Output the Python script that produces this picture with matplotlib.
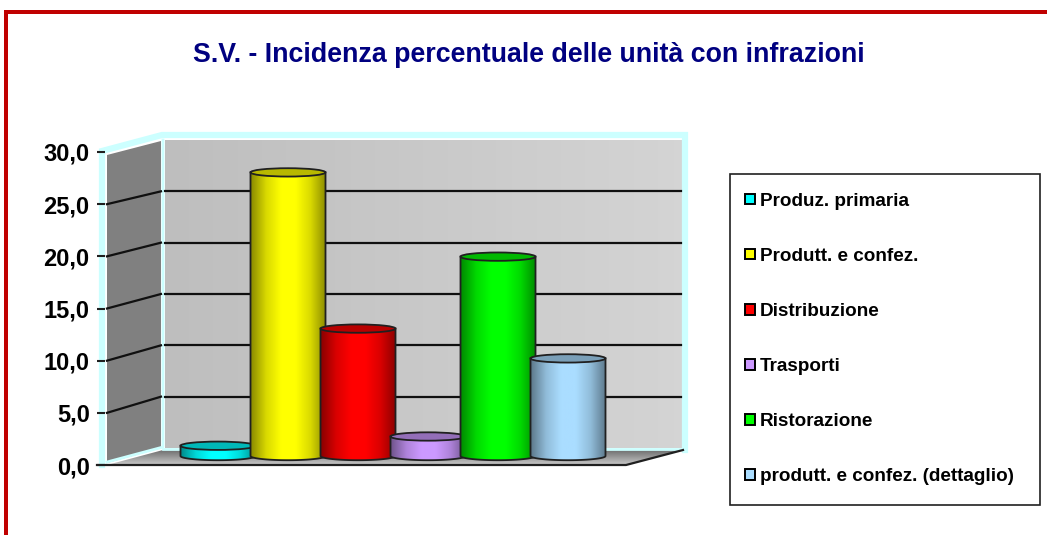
import numpy as np
import matplotlib
matplotlib.use('Agg')
import matplotlib.pyplot as plt
from matplotlib.colors import LinearSegmentedColormap, to_rgb
from matplotlib.patches import Ellipse, Patch, PathPatch, Polygon, Rectangle
from matplotlib.path import Path

plt.rcParams['font.family'] = ['Liberation Sans', 'DejaVu Sans']

title = 'S.V. - Incidenza percentuale delle unità con infrazioni'
categories = ['Produz. primaria', 'Produtt. e confez.', 'Distribuzione', 'Trasporti',
              'Ristorazione', 'produtt. e confez. (dettaglio)']
values = [1.0, 27.6, 12.4, 1.9, 19.4, 9.5]
colors = ['#00FFFF', '#FFFF00', '#FF0000', '#CC99FF', '#00FF00', '#AADDFF']
ticks = [0, 5, 10, 15, 20, 25, 30]

W, H = 1047, 535
fig = plt.figure(figsize=(W / 100, H / 100), dpi=100)

# background layer in pixels, for the frame and the 3d box
bg = fig.add_axes([0, 0, 1, 1])
bg.set_xlim(0, W)
bg.set_ylim(H, 0)
bg.axis('off')

bg.add_patch(Rectangle((4, 10), W, 4, color='#C00000', lw=0))
bg.add_patch(Rectangle((4, 10), 4, H, color='#C00000', lw=0))

# walls
bg.add_patch(Polygon([(107, 155), (161, 141), (161, 448), (107, 463)], color='#808080', lw=0))
wall = bg.imshow(np.linspace(0, 1, 64).reshape(1, -1), extent=(165, 682, 448, 140), aspect='auto',
                 cmap=LinearSegmentedColormap.from_list('w', ['#BEBEBE', '#D4D4D4']), zorder=1)
floor = bg.imshow(np.linspace(0, 1, 32).reshape(-1, 1), extent=(107, 683, 465, 450), aspect='auto',
                  cmap=LinearSegmentedColormap.from_list('f', ['#707070', '#C8C8C8']), zorder=1)
floor.set_clip_path(Polygon([(107, 465), (625, 465), (683, 450), (163, 450)], transform=bg.transData))
bg.set_xlim(0, W)
bg.set_ylim(H, 0)

# light cyan edge of the box
cyan = '#CCFFFF'
bg.plot([102, 102, 162, 685, 685], [465, 151, 135, 135, 450], color=cyan, lw=4.5, zorder=2, solid_joinstyle='miter')
bg.plot([107, 163, 163], [462, 447, 140], color=cyan, lw=2, zorder=2)
bg.plot([163, 682], [449, 449], color=cyan, lw=2, zorder=2)

# floor edge
bg.plot([97, 626, 683], [465, 465, 450], color='#202020', lw=1.6, zorder=3)

ax = fig.add_axes([105 / W, 1 - 465 / H, (625 - 105) / W, (465 - 152) / H])
ax.patch.set_alpha(0)
for s in ax.spines.values():
    s.set_visible(False)

px_x = 70.0
x_left = -(218 - 105) / px_x
ax.set_xticks([])
ax.set_yticks(ticks)
ax.set_yticklabels([('%.1f' % t).replace('.', ',') for t in ticks], fontsize=17, fontweight='bold')
ax.tick_params(axis='y', length=6, width=1.5, color='#202020', pad=5)

# gridlines on the two walls
px_y = (465 - 152) / 30
for t in ticks[1:-1]:
    front = 465 - t * px_y
    back = 448 - t * (448 - 140) / 30
    bg.plot([107, 161], [front, back], color='#101010', lw=1.6, zorder=3)
    bg.plot([165, 681], [back, back], color='#101010', lw=1.6, zorder=3)

# cylinders
base = 0.86
scale = 0.985
width = 75 / px_x
eh = 0.8


def shade(c, k):
    return tuple(np.array(to_rgb(c)) * k)


for i, (v, c) in enumerate(zip(values, colors)):
    z = 5 + i
    top = base + v * scale
    x0, x1 = i - width / 2, i + width / 2
    ax.bar(i, v * scale, bottom=base, width=width, color=c, lw=0, zorder=z)
    cm = LinearSegmentedColormap.from_list('c%d' % i, [shade(c, 0.55), shade(c, 0.85), c, c, shade(c, 0.85), shade(c, 0.55)])
    im = ax.imshow(np.linspace(0, 1, 128).reshape(1, -1), extent=(x0, x1, base - eh / 2, top), aspect='auto',
                   cmap=cm, zorder=z + 0.1)
    t = np.linspace(np.pi, 2 * np.pi, 40)
    xs = i + width / 2 * np.cos(t)
    ys = base + eh / 2 * np.sin(t)
    outline = np.column_stack([np.r_[x0, xs, x1], np.r_[top, ys, top]])
    body = Path(np.vstack([outline, outline[0]]), closed=True)
    im.set_clip_path(PathPatch(body, transform=ax.transData))
    ax.plot(outline[:, 0], outline[:, 1], color='#202020', lw=1.3, zorder=z + 0.2, clip_on=False)
    ax.add_patch(Ellipse((i, top), width, eh, facecolor=shade(c, 0.72), edgecolor='#202020', lw=1.3,
                         zorder=z + 0.3, clip_on=False))

ax.set_xlim(x_left, x_left + (625 - 105) / px_x)
ax.set_ylim(0, 30)

fig.text(529 / W, 1 - 55 / H, title, ha='center', va='center', color='#000080', fontsize=19.3, fontweight='bold')

# legend
bg.add_patch(Rectangle((730, 174), 310, 331, facecolor='white', edgecolor='#202020', lw=1.2, zorder=4))
handles = [Patch(facecolor=c, edgecolor='black', lw=1.4) for c in colors]
fig.legend(handles, categories, loc='center left', bbox_to_anchor=(745 / W, 1 - 339 / H), frameon=False,
           prop={'size': 13.6, 'weight': 'bold'}, labelspacing=2.02, handlelength=0.55, handleheight=0.5,
           handletextpad=0.25, borderpad=0, borderaxespad=0)

fig.savefig('out.png', dpi=100)
